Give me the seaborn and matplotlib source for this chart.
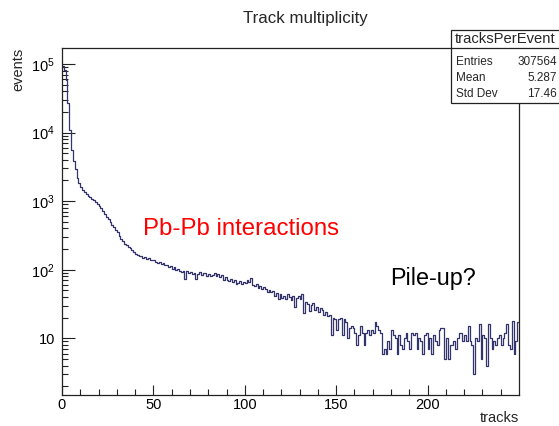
import numpy as np
import pandas as pd
import matplotlib
matplotlib.use("Agg")
import matplotlib.pyplot as plt
from matplotlib.patches import Rectangle
from matplotlib.lines import Line2D
from matplotlib.ticker import FixedLocator, FuncFormatter, LogLocator, NullFormatter
import seaborn as sns

sns.set_theme(style="white")
plt.rcParams["font.family"] = ["Liberation Sans", "DejaVu Sans"]
plt.rcParams["mathtext.fontset"] = "custom"
plt.rcParams["mathtext.rm"] = "Liberation Sans"
plt.rcParams["mathtext.it"] = "Liberation Sans:italic"

# Histogram contents: events per track-multiplicity bin (bin width 1, 0..250)
n_bins = 250
events = [
    95000, 82000, 58000, 27000, 11000, 5600, 3900, 2900, 2200, 1850,
    1620, 1450, 1340, 1260, 1190, 1130, 1080, 1040, 980, 920,
    860, 790, 720, 650, 590, 540, 490, 450, 415, 385,
    350, 310, 280, 258, 240, 226, 216, 205, 192, 183,
    170, 165, 160, 156, 150, 153, 144, 146, 140, 137,
    139, 131, 125, 128, 121, 124, 116, 118, 110, 113,
    104, 108, 99, 103, 96, 92, 97, 74, 95, 90,
    93, 86, 90, 73, 88, 92, 84, 89, 91, 82,
    87, 80, 85, 90, 81, 86, 78, 84, 72, 79,
    70, 68, 74, 66, 71, 62, 64, 69, 61, 66,
    63, 70, 66, 77, 60, 57, 61, 55, 58, 52,
    56, 53, 48, 51, 47, 49, 41, 46, 38, 44,
    39, 42, 38, 45, 40, 36, 41, 29, 39, 42,
    37, 45, 23, 34, 32, 25, 31, 33, 26, 29,
    24, 28, 26, 22, 24, 21, 22, 11, 20, 19,
    13, 19, 20, 11, 19, 17, 10, 14, 15, 14,
    12, 8, 11, 15, 12, 8, 12, 13, 11, 13,
    12, 17, 15, 13, 12, 6, 7, 6, 9, 7,
    13, 11, 10, 6, 11, 8, 7, 10, 12, 9,
    7, 12, 11, 12, 7, 10, 9, 6, 11, 12,
    7, 10, 6, 11, 9, 8, 13, 14, 14, 5,
    10, 5, 8, 8, 9, 7, 10, 12, 12, 9,
    11, 9, 15, 9, 8, 3, 10, 9, 16, 5,
    11, 10, 4, 16, 10, 7, 9, 8, 10, 11,
    8, 10, 12, 16, 8, 7, 18, 6, 9, 17,
]
x_ticks = [0, 50, 100, 150, 200]
y_ticks = [1e1, 1e2, 1e3, 1e4, 1e5]

stats_title = "tracksPerEvent"
stats_rows = [("Entries", "307564"), ("Mean", "5.287"), ("Std Dev", "17.46")]

df = pd.DataFrame({"tracks": np.arange(n_bins) + 0.5, "events": events})

W, H = 559, 426
fig = plt.figure(figsize=(W / 100, H / 100), dpi=100)
fig.patch.set_facecolor("white")


def fx(x):
    return x / W


def fy(y):
    return 1 - y / H


ax = fig.add_axes([fx(62), fy(395), fx(519) - fx(62), fy(48) - fy(395)])
ax.set_facecolor("white")

sns.histplot(
    data=df, x="tracks", weights="events", bins=n_bins, binrange=(0, n_bins),
    element="step", fill=False, color="#34346c", linewidth=0.9, ax=ax,
)
ax.set_yscale("log")
ax.set_xlim(0, 250)
ax.set_ylim(1.49, 1.71e5)
ax.set_xlabel("")
ax.set_ylabel("")

for s in ax.spines.values():
    s.set_visible(True)
    s.set_color("#222222")
    s.set_linewidth(0.9)

ax.xaxis.set_major_locator(FixedLocator(x_ticks))
ax.xaxis.set_minor_locator(FixedLocator([v for v in range(10, 250, 10) if v % 50]))
ax.yaxis.set_major_locator(FixedLocator(y_ticks))
ax.yaxis.set_minor_locator(LogLocator(base=10, subs=np.arange(2, 10), numticks=20))
ax.yaxis.set_minor_formatter(NullFormatter())


def log_label(v, pos):
    e = int(round(np.log10(v)))
    return "10" if e == 1 else r"$\mathregular{10^{%d}}$" % e


ax.yaxis.set_major_formatter(FuncFormatter(log_label))
ax.tick_params(axis="both", which="both", direction="in", colors="#222222",
               labelcolor="black", labelsize=10.5, width=0.8,
               top=False, right=False, left=True, bottom=True)
ax.tick_params(axis="x", which="major", length=7.5, pad=2)
ax.tick_params(axis="x", which="minor", length=4)
ax.tick_params(axis="y", which="major", length=9.5, pad=5)
ax.tick_params(axis="y", which="minor", length=4.5)

# Titles and axis captions
fig.text(fx(305), fy(18), "Track multiplicity", ha="center", va="center", fontsize=12.2)
fig.text(fx(18), fy(48), "events", ha="center", va="top", rotation=90, fontsize=10.5)
fig.text(fx(519), fy(418), "tracks", ha="right", va="center", fontsize=10.5)

# Annotations on the distribution
fig.text(fx(143), fy(229), "Pb-Pb interactions", ha="left", va="center",
         fontsize=17.3, color="#ff0000")
fig.text(fx(390), fy(278), "Pile-up?", ha="left", va="center",
         fontsize=16.8, color="black")

# Statistics box
box = Rectangle((fx(451), fy(103)), fx(130), fy(30) - fy(103), transform=fig.transFigure,
                facecolor="white", edgecolor="#222222", linewidth=0.9, zorder=5)
fig.add_artist(box)
fig.add_artist(Line2D([fx(451), 1.0], [fy(48), fy(48)], transform=fig.transFigure,
                      color="#222222", linewidth=0.9, zorder=6))
fig.text(fx(455), fy(39), stats_title, ha="left", va="center", fontsize=10.6, zorder=7)
for i, (name, val) in enumerate(stats_rows):
    yy = fy(62 + 16 * i)
    fig.text(fx(456), yy, name, ha="left", va="center", fontsize=8.5, zorder=7)
    fig.text(fx(557), yy, val, ha="right", va="center", fontsize=8.5, zorder=7)

fig.savefig("out.png", dpi=100)
